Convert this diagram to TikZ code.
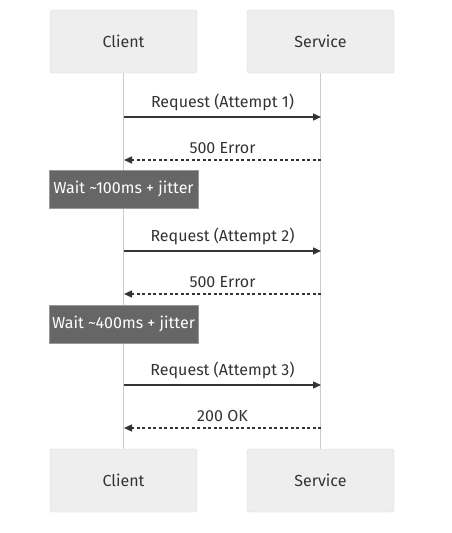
\documentclass[tikz,border=0pt]{standalone}
\usepackage{fontspec}
\setmainfont{Fira Sans}
\usepackage{xcolor}
\usetikzlibrary{arrows.meta,positioning}
\definecolor{boxfill}{HTML}{EEEEEE}
\definecolor{boxline}{HTML}{D9D9D9}
\definecolor{lifecol}{HTML}{CCCCCC}
\definecolor{msgcol}{HTML}{333333}
\definecolor{notefill}{HTML}{666666}
\definecolor{noteline}{HTML}{999999}

\begin{document}
\begin{tikzpicture}[x=1pt, y=-1pt, >={Triangle[length=8pt,width=7pt]},
  actor/.style={draw=boxline, fill=boxfill, rounded corners=2.5pt, minimum width=147pt,
    minimum height=63pt, text=msgcol, font=\fontsize{16}{18}\selectfont},
  lifeline/.style={draw=lifecol, line width=1.5pt},
  msg/.style={draw=msgcol, line width=1.4pt},
  reply/.style={msg, dash pattern=on 3pt off 2.5pt},
  note/.style={draw=noteline, fill=notefill, minimum width=149pt, minimum height=38pt,
    text=white, font=\fontsize{16}{18}\selectfont},
  lbl/.style={text=msgcol, font=\fontsize{16}{18}\selectfont, inner sep=0pt}]
  \useasboundingbox (0,0) rectangle (452,533);

  % Participants
  \node[actor] (ctop) at (123.5,41.5) {Client};
  \node[actor] (stop) at (320.5,41.5) {Service};
  \node[actor] (cbot) at (123.5,480.5) {Client};
  \node[actor] (sbot) at (320.5,480.5) {Service};

  % Lifelines
  \draw[lifeline] (ctop) -- (cbot);
  \draw[lifeline] (stop) -- (sbot);

  % Message ends
  \coordinate (c1) at (124,117);  \coordinate (s1) at (321,117);
  \coordinate (c2) at (124,160);  \coordinate (s2) at (321,160);
  \coordinate (c3) at (124,251);  \coordinate (s3) at (321,251);
  \coordinate (c4) at (124,294);  \coordinate (s4) at (321,294);
  \coordinate (c5) at (124,385);  \coordinate (s5) at (321,385);
  \coordinate (c6) at (124,428);  \coordinate (s6) at (321,428);

  % Attempt 1
  \draw[msg,->] (c1) -- (s1) node[lbl,midway,above=5.5pt] {Request (Attempt 1)};
  \draw[reply,->] (s2) -- (c2) node[lbl,midway,above=5.5pt] {500 Error};
  \node[note] (wait1) at (123.5,189) {Wait \textasciitilde100ms + jitter};

  % Attempt 2
  \draw[msg,->] (c3) -- (s3) node[lbl,midway,above=5.5pt] {Request (Attempt 2)};
  \draw[reply,->] (s4) -- (c4) node[lbl,midway,above=5.5pt] {500 Error};
  \node[note] (wait2) at (123.5,324) {Wait \textasciitilde400ms + jitter};

  % Attempt 3
  \draw[msg,->] (c5) -- (s5) node[lbl,midway,above=5.5pt] {Request (Attempt 3)};
  \draw[reply,->] (s6) -- (c6) node[lbl,midway,above=5.5pt] {200 OK};
\end{tikzpicture}
\end{document}
